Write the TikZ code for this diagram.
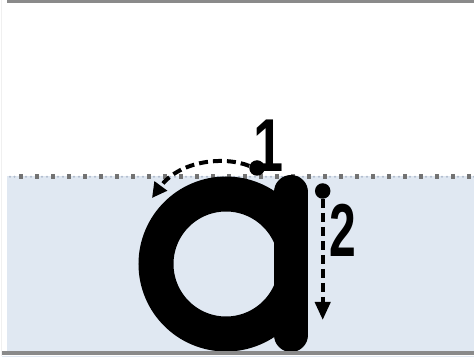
\documentclass[tikz,border=0pt]{standalone}
\usepackage{fontspec}
\setmainfont{Liberation Sans}
\usetikzlibrary{arrows.meta}
\definecolor{band}{HTML}{E0E8F2}
\definecolor{bar}{HTML}{8A8A8A}
\definecolor{sq}{HTML}{737373}
\definecolor{dotc}{HTML}{AFBACC}
\begin{document}
\begin{tikzpicture}[x=1pt,y=-1pt,
  dashline/.style={line width=4pt, dash pattern=on 9pt off 5pt},
  dotnode/.style={circle, fill=black, inner sep=0pt, minimum size=15.5pt},
  numlabel/.style={font=\fontsize{75}{75}\selectfont\bfseries, anchor=base, inner sep=0pt},
  stroke/.style={line width=35pt, black}]
\useasboundingbox (0,0) rectangle (474,363);
% band and rules
\fill[band] (7,176) rectangle (474,351);
\draw[black!6, line width=1.5pt] (1.5,0) -- (1.5,356);
\fill[bar] (7,0) rectangle (474,3.5);
% dotted top border of band
\fill[dotc] (10,176.7) circle (1.1pt);
\fill[dotc] (14.5,176.7) circle (1.1pt);
\foreach \i in {0,...,28} {
  \fill[sq] ({20.7+16*\i-2.2},174.5) rectangle ++(4.4,4.4);
  \fill[dotc] ({26+16*\i},176.7) circle (1.1pt);
  \fill[dotc] ({31+16*\i},176.7) circle (1.1pt);
}
% letter a
\begin{scope}
  \clip (130,165) rectangle (291,360);
  \draw[stroke] (226,264) circle [radius=70pt];
\end{scope}
\draw[stroke, line width=34pt, line cap=round] (291,192) -- (291,335);
% bottom rule
\fill[bar] (2,351) rectangle (474,355);
\draw[band, line width=1.5pt] (2,356.5) -- (474,356.5);
% stroke order marks
\node[dotnode] (d1) at (257,168) {};
\node[dotnode] (d2) at (322.7,191) {};
\coordinate (t1) at (152,198);
\coordinate (t2) at (322.7,320);
\draw[dashline, -{Triangle[length=15pt,width=15pt]}] (d1.165) .. controls (225,156) and (180,160) .. (t1);
\draw[dashline, -{Triangle[length=18pt,width=15pt]}] (d2.south) -- (t2);
\node[numlabel] (n1) at (268.5,172) {\scalebox{0.72}[1]{1}};
\node[numlabel] (n2) at (342.5,257) {\scalebox{0.64}[1]{2}};
\end{tikzpicture}
\end{document}
